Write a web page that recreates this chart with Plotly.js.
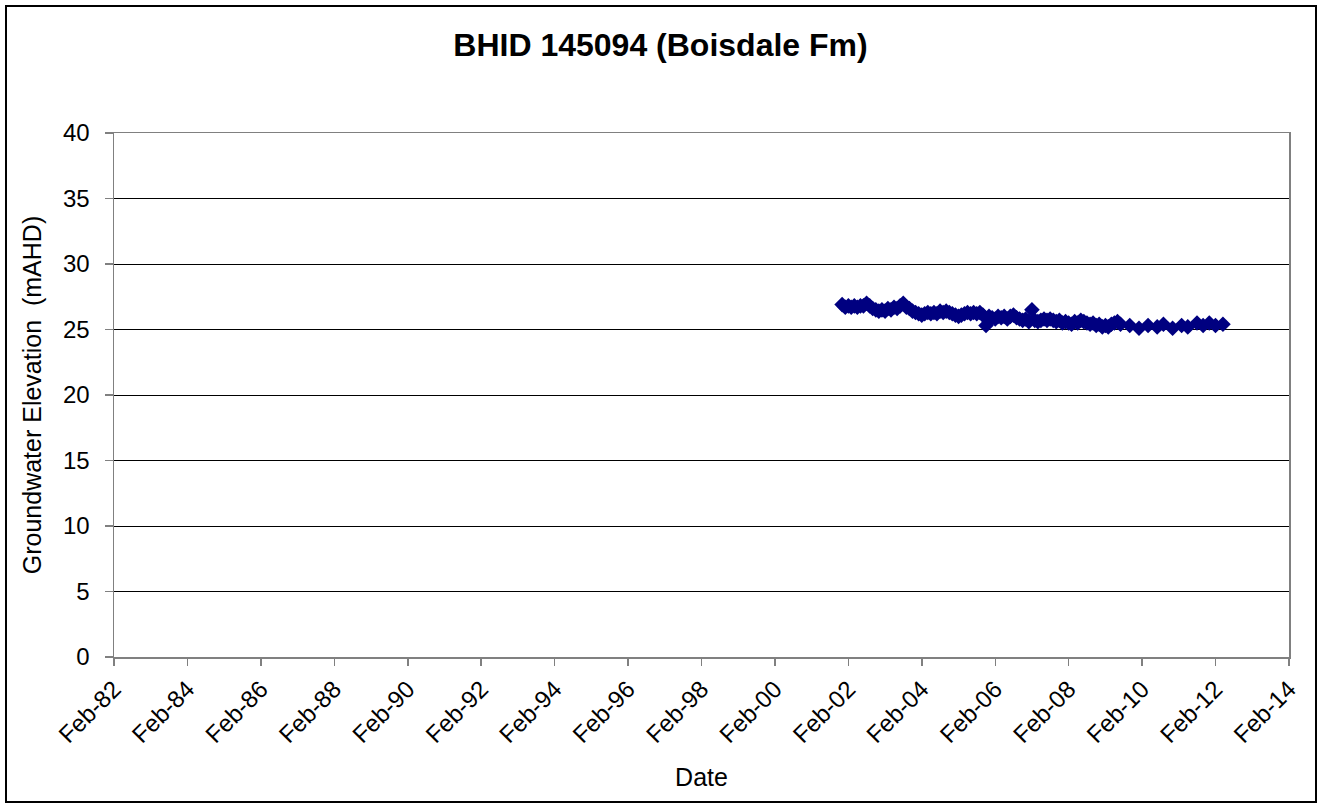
<!DOCTYPE html>
<html>
<head>
<meta charset="utf-8">
<script src="https://cdn.plot.ly/plotly-3.0.1.min.js"></script>
<style>
  html, body { margin: 0; padding: 0; background: #fff; }
  #wrap { position: relative; width: 1321px; height: 808px; }
  #chart { position: absolute; left: 0; top: 0; width: 1321px; height: 808px; }
  #frame { position: absolute; left: 5px; top: 5px; width: 1312px; height: 798px;
           border: 2px solid #000; pointer-events: none; box-sizing: border-box; }
</style>
</head>
<body>
<div id="wrap">
  <div id="chart"></div>
  <div id="frame"></div>
</div>
<script>
// Observation dates and groundwater elevations (mAHD)
const dates = [
  "2001-12-01","2002-01-01","2002-02-01","2002-03-01","2002-04-01","2002-05-01","2002-06-01",
  "2002-07-01","2002-08-01","2002-09-01","2002-10-01","2002-11-01","2002-12-01",
  "2003-01-01","2003-02-01","2003-03-01","2003-04-01","2003-05-01","2003-06-01",
  "2003-07-01","2003-08-01","2003-09-01","2003-10-01","2003-11-01","2003-12-01",
  "2004-01-01","2004-02-01","2004-03-01","2004-04-01","2004-05-01","2004-06-01",
  "2004-07-01","2004-08-01","2004-09-01","2004-10-01","2004-11-01","2004-12-01",
  "2005-01-01","2005-02-01","2005-03-01","2005-04-01","2005-05-01","2005-06-01",
  "2005-07-01","2005-08-01","2005-09-01","2005-10-01","2005-11-01","2005-12-01",
  "2006-01-01","2006-02-01","2006-03-01","2006-04-01","2006-05-01","2006-06-01",
  "2006-07-01","2006-08-01","2006-09-01","2006-10-01","2006-11-01","2006-12-01",
  "2007-01-01","2007-02-01","2007-03-01","2007-04-01","2007-05-01","2007-06-01",
  "2007-07-01","2007-08-01","2007-09-01","2007-10-01","2007-11-01","2007-12-01",
  "2008-01-01","2008-02-01","2008-03-01","2008-04-01","2008-05-01","2008-06-01",
  "2008-07-01","2008-08-01","2008-09-01","2008-10-01","2008-11-01","2008-12-01",
  "2009-01-01","2009-02-01","2009-03-01","2009-04-01","2009-05-01","2009-06-01",
  "2009-07-01","2009-10-01","2010-01-01","2010-04-01","2010-07-01","2010-09-01",
  "2010-12-01","2011-03-01","2011-05-01","2011-08-01","2011-10-01","2011-12-01",
  "2012-02-01","2012-04-15"
];
const elevations = [
  26.9,26.7,26.8,26.7,26.8,26.7,26.8,
  26.8,27.0,26.8,26.6,26.5,26.4,
  26.5,26.4,26.6,26.5,26.7,26.6,
  26.8,27.0,26.7,26.6,26.4,26.3,
  26.2,26.1,26.2,26.3,26.2,26.3,
  26.2,26.4,26.3,26.4,26.3,26.2,
  26.1,26.0,26.1,26.2,26.3,26.2,
  26.3,26.2,26.3,26.1,25.3,26.0,
  25.9,25.8,26.0,25.9,26.0,25.8,
  26.0,26.1,25.9,25.8,25.7,25.8,
  25.6,26.5,25.7,25.6,25.7,25.8,
  25.7,25.8,25.7,25.6,25.7,25.5,
  25.6,25.5,25.4,25.6,25.5,25.7,
  25.6,25.5,25.4,25.5,25.3,25.4,
  25.2,25.3,25.2,25.4,25.5,25.6,
  25.4,25.3,25.1,25.3,25.2,25.4,
  25.1,25.3,25.2,25.5,25.3,25.5,
  25.3,25.4
];
const xRange = ["1982-02-01", "2014-02-01"];
const yTicks = [0, 5, 10, 15, 20, 25, 30, 35, 40];

const font = "Liberation Sans, Arial, sans-serif";

Plotly.newPlot("chart", [{
  type: "scatter",
  mode: "markers",
  x: dates,
  y: elevations,
  marker: { symbol: "diamond", size: 12, color: "#000080", line: { width: 0 } },
  hoverinfo: "x+y"
}], {
  width: 1321, height: 808,
  margin: { l: 114, r: 32, t: 133, b: 151 },
  paper_bgcolor: "#fff", plot_bgcolor: "#fff",
  showlegend: false,
  font: { family: font, size: 24, color: "#000" },
  title: { text: "<b>BHID 145094 (Boisdale Fm)</b>", font: { family: font, size: 32, color: "#000" },
           x: 0.5, xref: "container", y: 0.944, yanchor: "middle" },
  xaxis: {
    type: "date", range: xRange, tick0: "1982-02-01", dtick: "M24", tickformat: "%b-%y",
    tickangle: -45, ticks: "outside", ticklen: 7, tickcolor: "#808080", tickwidth: 1.5,
    showline: true, linecolor: "#808080", linewidth: 1.5, mirror: true,
    showgrid: false, zeroline: false, tickfont: { family: font, size: 24 },
    title: { text: "Date", font: { family: font, size: 25 }, standoff: 21 }
  },
  yaxis: {
    range: [0, 40], tickvals: yTicks, ticks: "outside", ticklen: 8, tickcolor: "#808080", tickwidth: 1.5,
    showline: true, linecolor: "#808080", linewidth: 1.5, mirror: true,
    showgrid: true, gridcolor: "#000", gridwidth: 1, zeroline: false,
    tickfont: { family: font, size: 24 }, ticklabelstandoff: 10,
    title: { text: "Groundwater Elevation  (mAHD)", font: { family: font, size: 25 }, standoff: 14 }
  }
}, { displayModeBar: false, staticPlot: true });
</script>
</body>
</html>
